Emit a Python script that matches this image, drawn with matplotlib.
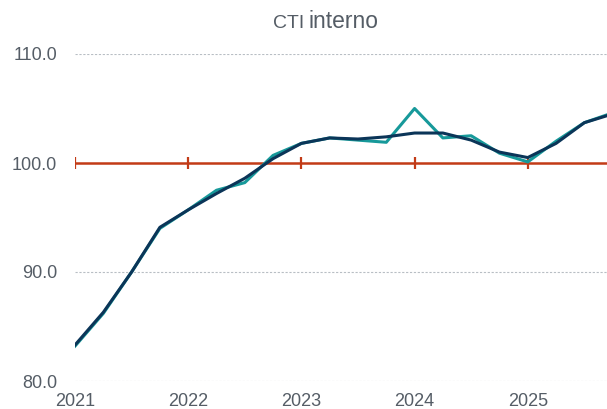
import matplotlib
matplotlib.use("Agg")
import matplotlib.pyplot as plt
import numpy as np

plt.rcParams['font.family'] = ['Liberation Sans', 'DejaVu Sans']

quarters = [2021 + i * 0.25 for i in range(20)]
teal_vals = [83.2, 86.2, 90.0, 94.0, 95.7, 97.5, 98.2, 100.7, 101.8, 102.3,
             102.1, 101.9, 105.0, 102.3, 102.5, 100.9, 100.1, 102.0, 103.7, 104.6]
dark_vals = [83.3, 86.3, 90.0, 94.1, 95.7, 97.2, 98.6, 100.4, 101.8, 102.3,
             102.2, 102.4, 102.75, 102.75, 102.1, 101.0, 100.5, 101.8, 103.7, 104.5]
year_ticks = [2021, 2022, 2023, 2024, 2025]
y_ticks = [80.0, 90.0, 100.0, 110.0]
ref_level = 100.0

fig = plt.figure(figsize=(6.07, 4.09), dpi=100)
ax = fig.add_axes([75/607, 28/409, 1 - 75/607, 327/409])

for y in [80, 90, 110]:
    ax.axhline(y, color='#b8bec4', lw=0.8, ls=(0, (2, 1.5)), zorder=1)

ax.plot([2021, 2026], [ref_level, ref_level], color='#c23b17', lw=1.8, zorder=2)
ax.plot(year_ticks, [ref_level] * len(year_ticks), ls='none', marker='|',
        color='#c23b17', markersize=9, markeredgewidth=1.6, zorder=2)

ax.plot(quarters, teal_vals, color='#17999a', lw=2.2, zorder=3)
ax.plot(quarters, dark_vals, color='#0b3558', lw=2.2, zorder=4)

ax.set_xlim(2021, 2021 + 18.8 / 4)
ax.set_ylim(80, 110)
ax.set_yticks(y_ticks)
ax.set_yticklabels([f"{v:.1f}" for v in y_ticks])
ax.set_xticks(year_ticks)
ax.set_xticklabels([str(y) for y in year_ticks])
ax.tick_params(axis='both', length=0, labelsize=13, colors='#555d66')
ax.tick_params(axis='y', pad=13)
ax.tick_params(axis='x', pad=9)
for s in ax.spines.values():
    s.set_visible(False)

fig.text(304/607, 1 - 28/409, "CTI", ha='right', va='baseline', fontsize=14, color='#555d66')
fig.text(308/607, 1 - 28/409, "interno", ha='left', va='baseline', fontsize=16.5, color='#555d66')

fig.savefig("out.png", dpi=100)
